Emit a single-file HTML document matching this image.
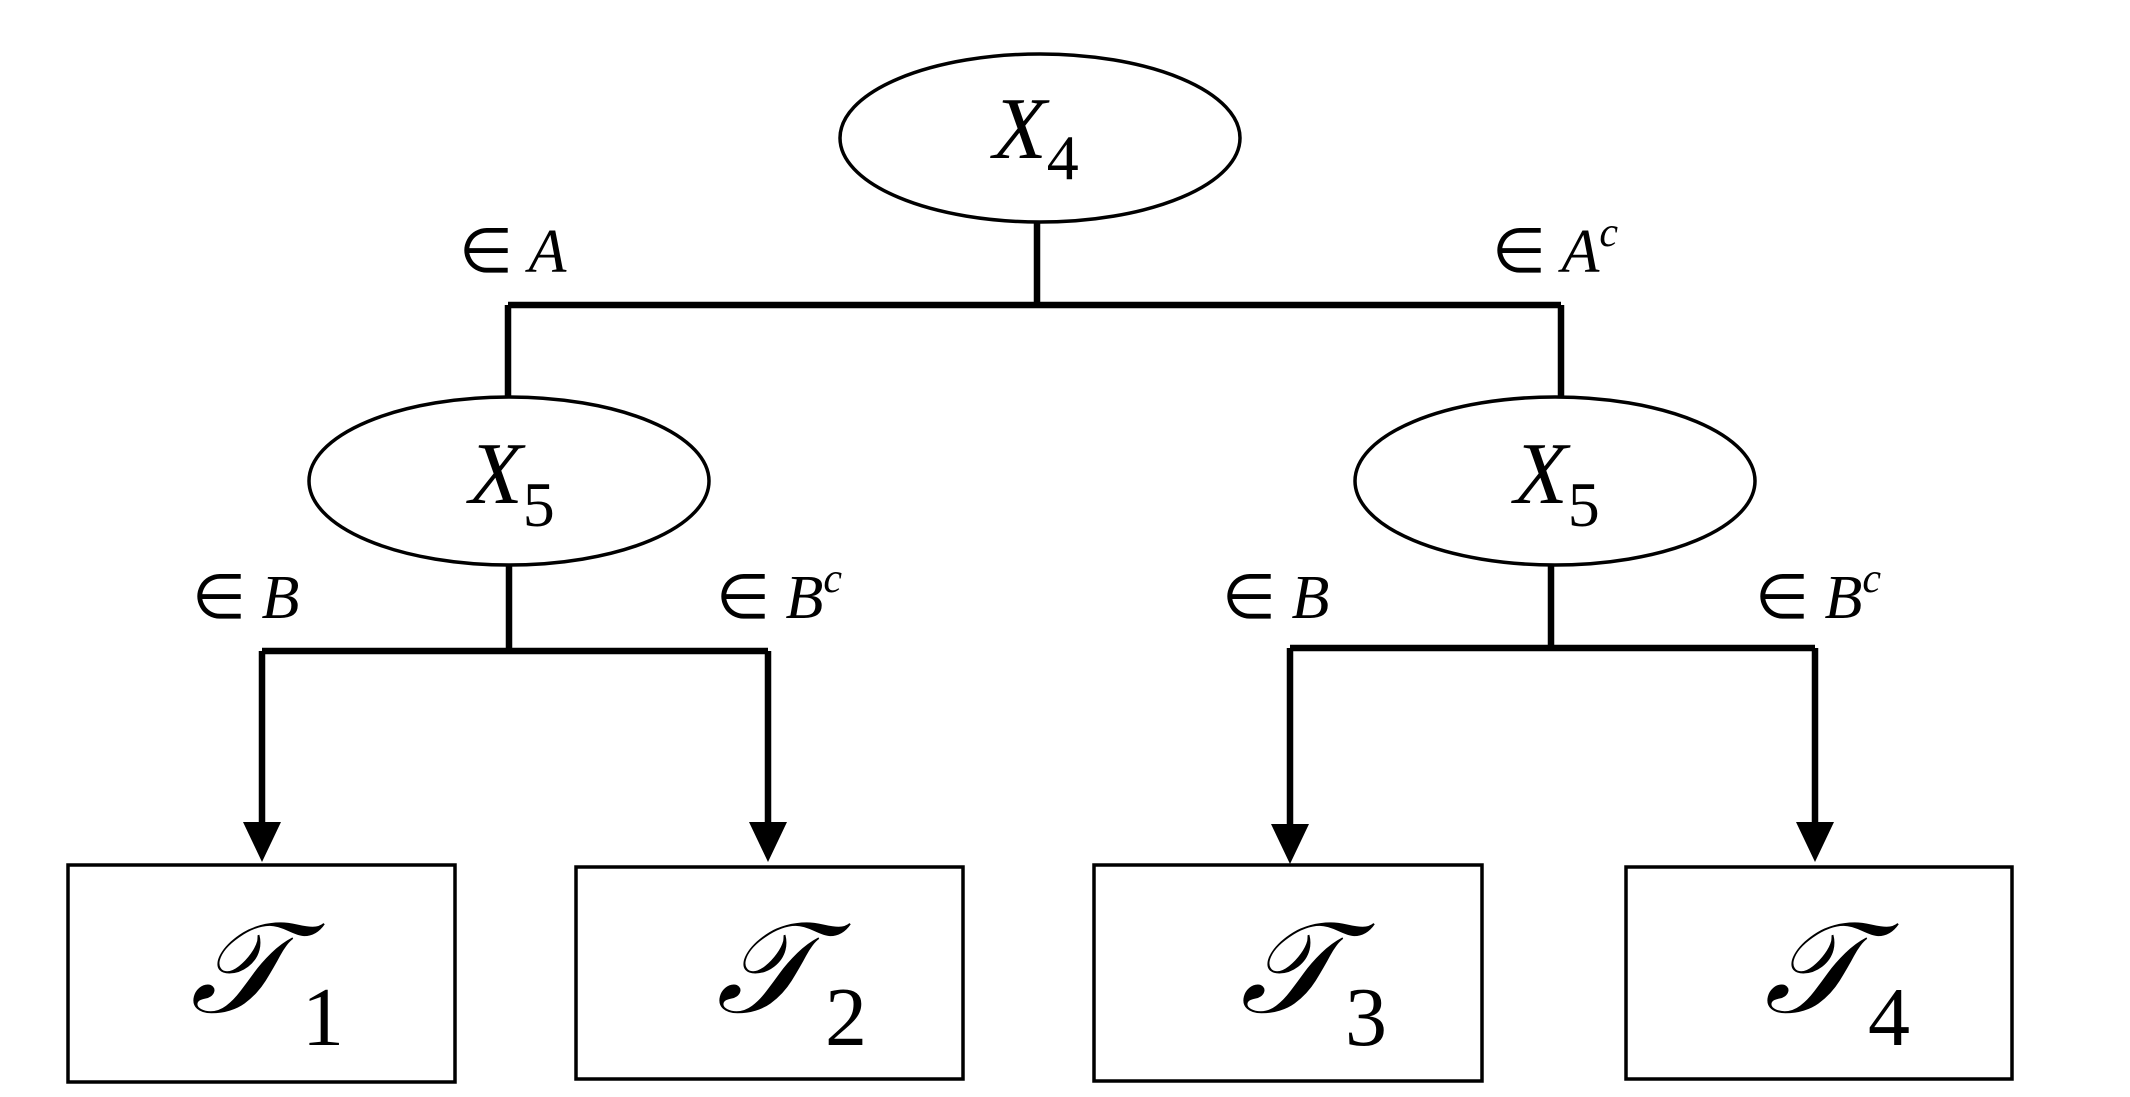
<!DOCTYPE html>
<html><head><meta charset="utf-8"><style>
html,body{margin:0;padding:0;background:#fff;}
svg{display:block;}
text{font-family:"Liberation Serif",serif;fill:#000;}
</style></head><body>
<svg width="2130" height="1097" viewBox="0 0 2130 1097" xmlns="http://www.w3.org/2000/svg">
<g fill="none" stroke="#000" stroke-width="3.5">
<ellipse cx="1040" cy="138" rx="200" ry="84"/>
<ellipse cx="509" cy="481" rx="200" ry="84"/>
<ellipse cx="1555" cy="481" rx="200" ry="84"/>
<rect x="68" y="865" width="387" height="217"/>
<rect x="576" y="867" width="387" height="212"/>
<rect x="1094" y="865" width="388" height="216"/>
<rect x="1626" y="867" width="386" height="212"/>
</g>
<g fill="none" stroke="#000" stroke-width="6.5">
<path d="M1037 222 V305 M508 305 H1561 M508 305 V397 M1561 305 V397"/>
<path d="M509 565 V651 M262 651 H768 M262 651 V826 M768 651 V826"/>
<path d="M1551 565 V648 M1290 648 H1815 M1290 648 V826 M1815 648 V826"/>
</g>
<g fill="#000">
<polygon points="243,822 281,822 262,862"/>
<polygon points="749,822 787,822 768,862"/>
<polygon points="1271,824 1309,824 1290,864"/>
<polygon points="1796,822 1834,822 1815,862"/>
</g>
<g font-size="62">
<text x="459" y="272">∈ <tspan font-style="italic">A</tspan></text>
<text x="1492" y="272">∈ <tspan font-style="italic">A</tspan><tspan font-style="italic" font-size="42" dy="-26">c</tspan></text>
<text x="192" y="618">∈ <tspan font-style="italic">B</tspan></text>
<text x="716" y="618">∈ <tspan font-style="italic">B</tspan><tspan font-style="italic" font-size="42" dy="-26">c</tspan></text>
<text x="1222" y="618">∈ <tspan font-style="italic">B</tspan></text>
<text x="1755" y="618">∈ <tspan font-style="italic">B</tspan><tspan font-style="italic" font-size="42" dy="-26">c</tspan></text>
</g>
<g font-size="88">
<text x="993" y="158" font-style="italic">X<tspan font-style="normal" font-size="64" dy="21">4</tspan></text>
<text x="469" y="503" font-style="italic">X<tspan font-style="normal" font-size="64" dy="23">5</tspan></text>
<text x="1514" y="503" font-style="italic">X<tspan font-style="normal" font-size="64" dy="23">5</tspan></text>
</g>
<g font-size="128" font-style="italic">
<text x="190" y="1012">𝒯</text>
<text x="716" y="1012">𝒯</text>
<text x="1240" y="1012">𝒯</text>
<text x="1764" y="1012">𝒯</text>
</g>
<g font-size="84">
<text x="302" y="1045">1</text>
<text x="825" y="1045">2</text>
<text x="1345" y="1045">3</text>
<text x="1868" y="1045">4</text>
</g>
</svg>
</body></html>
